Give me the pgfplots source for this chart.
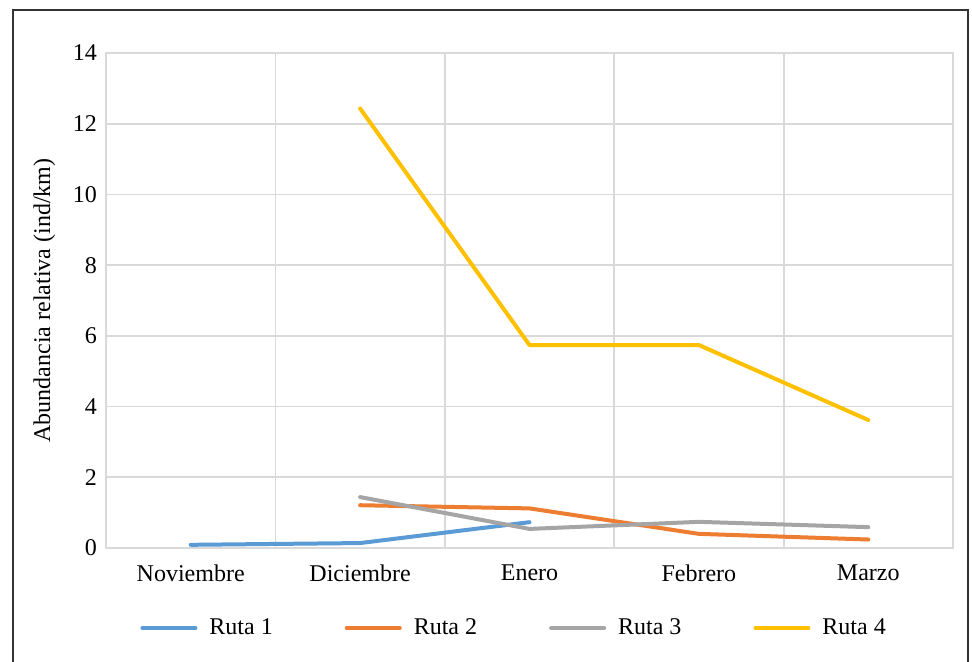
\documentclass[border=0pt]{standalone}
\usepackage{fontspec}
\setmainfont{Liberation Serif}
\usepackage{pgfplots}
\pgfplotsset{compat=1.18}
\definecolor{ruta1}{HTML}{5B9BD5}
\definecolor{ruta2}{HTML}{ED7D31}
\definecolor{ruta3}{HTML}{A5A5A5}
\definecolor{ruta4}{HTML}{FFC000}
\definecolor{gridgray}{HTML}{D9D9D9}
\begin{document}
\begin{tikzpicture}
\useasboundingbox (0,0) rectangle (486pt,-331pt);
\draw[line width=0.8pt, black!80] (6.5pt,-332pt) -- (6.5pt,-5pt) -- (484pt,-5pt) -- (484pt,-332pt);
\begin{axis}[
    at={(53pt,-274pt)}, anchor=south west,
    scale only axis,
    width=423.5pt, height=247.5pt,
    xmin=-0.5, xmax=4.5,
    ymin=0, ymax=14,
    xtick={0,1,2,3,4},
    xticklabels={Noviembre,Diciembre,Enero,Febrero,Marzo},
    minor xtick={-0.5,0.5,1.5,2.5,3.5,4.5},
    ytick={0,2,4,6,8,10,12,14},
    xminorgrids=true, ymajorgrids=true,
    grid style={gridgray, line width=0.9pt},
    minor grid style={gridgray, line width=0.9pt},
    axis line style={gridgray, line width=0.9pt},
    major tick length=0pt, minor tick length=0pt,
    tick style={draw=none},
    /pgf/number format/assume math mode=true,
    ticklabel style={font=\fontsize{12}{14}\selectfont},
    xticklabel style={yshift=-5pt},
    yticklabel style={xshift=-1pt},
    ylabel={Abundancia relativa (ind/km)},
    ylabel style={font=\fontsize{12}{14}\selectfont, yshift=2pt},
    legend columns=4,
    legend style={at={(0.483,-0.162)}, anchor=center, draw=none, fill=none,
        font=\fontsize{12}{14}\selectfont,
        /tikz/every odd column/.append style={column sep=4pt},
        /tikz/every even column/.append style={column sep=34pt}},
    legend image code/.code={\draw[#1, line width=2pt] (0pt,0pt) -- (26.5pt,0pt);},
    every axis plot/.append style={line width=2pt, line cap=round, line join=round, mark=none},
]
\addplot[ruta1] coordinates {(0,0.09) (1,0.14) (2,0.73)};
\addlegendentry{Ruta 1}
\addplot[ruta2] coordinates {(1,1.21) (2,1.12) (3,0.40) (4,0.24)};
\addlegendentry{Ruta 2}
\addplot[ruta3] coordinates {(1,1.44) (2,0.54) (3,0.74) (4,0.59)};
\addlegendentry{Ruta 3}
\addplot[ruta4] coordinates {(1,12.43) (2,5.74) (3,5.74) (4,3.62)};
\addlegendentry{Ruta 4}
\end{axis}
\end{tikzpicture}
\end{document}
